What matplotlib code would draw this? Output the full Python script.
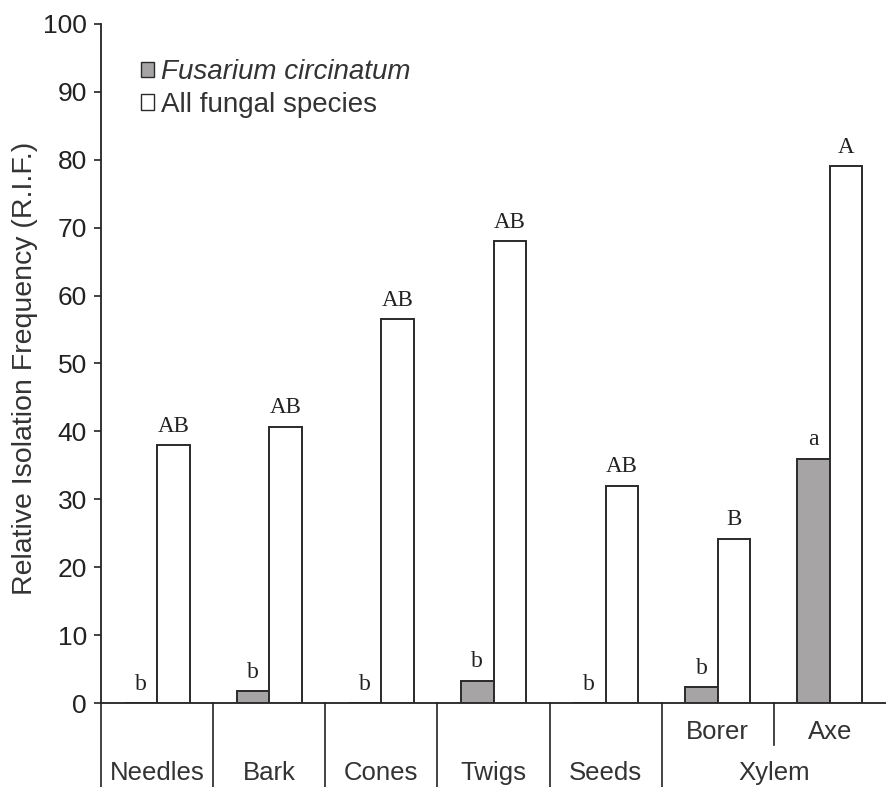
import matplotlib
matplotlib.use("Agg")
import matplotlib.pyplot as plt
import numpy as np

# data
tissues = ['Needles', 'Bark', 'Cones', 'Twigs', 'Seeds', 'Borer', 'Axe']
groups = ['Needles', 'Bark', 'Cones', 'Twigs', 'Seeds', 'Xylem']
fusarium = [0, 1.8, 0, 3.3, 0, 2.3, 36]
all_fungi = [38, 40.7, 56.5, 68, 32, 24.2, 79]
fus_letters = ['b', 'b', 'b', 'b', 'b', 'b', 'a']
all_letters = ['AB', 'AB', 'AB', 'AB', 'AB', 'B', 'A']

plt.rcParams['font.family'] = ['Liberation Sans', 'DejaVu Sans']

fig = plt.figure(figsize=(8.86, 7.87), dpi=100)
ax = fig.add_axes([0.114, 0.1067, 0.886, 0.863])

x = np.arange(len(tissues))
w = 0.29
grey = '#a7a4a5'
edge = '#2a2a2a'
ax.bar(x - w / 2, fusarium, w, color=grey, edgecolor=edge, linewidth=1.4,
       label='Fusarium circinatum', zorder=3)
ax.bar(x + w / 2, all_fungi, w, color='white', edgecolor=edge, linewidth=1.4,
       label='All fungal species', zorder=3)

for i in range(len(tissues)):
    ax.annotate(fus_letters[i], (x[i] - w / 2, fusarium[i]), xytext=(0, 9.5),
                textcoords='offset points', ha='center', va='baseline',
                fontsize=17, family='Liberation Serif', color='#222222')
    ax.annotate(all_letters[i], (x[i] + w / 2, all_fungi[i]), xytext=(0, 9.5),
                textcoords='offset points', ha='center', va='baseline',
                fontsize=16.5, family='Liberation Serif', color='#222222')

ax.set_xlim(-0.5, len(tissues) - 0.5)
ax.set_ylim(0, 100)
ax.set_yticks(np.arange(0, 101, 10))
ax.tick_params(axis='y', labelsize=19, length=5, width=1.2, pad=5, colors='#222222')
ax.set_xticks([])
for s in ['top', 'right']:
    ax.spines[s].set_visible(False)
for s in ['left', 'bottom']:
    ax.spines[s].set_linewidth(1.3)
    ax.spines[s].set_color('#222222')
ax.set_ylabel('Relative Isolation Frequency (R.I.F.)', fontsize=20.5,
              color='#333333')
ax.yaxis.set_label_coords(-0.080, 0.493)

# category table under the axis
tr = ax.get_xaxis_transform()
for b in [-0.5, 0.5, 1.5, 2.5, 3.5, 4.5]:
    ax.plot([b, b], [0, -0.2], transform=tr, color='#222222', lw=1.2, clip_on=False)
ax.plot([5.5, 5.5], [0, -0.062], transform=tr, color='#222222', lw=1.2, clip_on=False)
for i in range(5):
    ax.text(x[i], -0.103, groups[i], transform=tr, ha='center', va='center',
            fontsize=18.5, color='#333333')
ax.text(5.5, -0.103, groups[5], transform=tr, ha='center', va='center',
        fontsize=18.5, color='#333333')
for i in [5, 6]:
    ax.text(x[i], -0.043, tissues[i], transform=tr, ha='center', va='center',
            fontsize=18.5, color='#333333')

leg = ax.legend(loc='upper left', bbox_to_anchor=(0.051, 0.948), frameon=False,
                fontsize=20, handlelength=0.48, handleheight=0.48,
                handletextpad=0.25, labelspacing=0.25, borderpad=0, borderaxespad=0)
leg.get_texts()[0].set_fontstyle('italic')
for t in leg.get_texts():
    t.set_color('#333333')
for h in leg.legend_handles:
    h.set_linewidth(1.0)

fig.savefig('out.png', dpi=100)
